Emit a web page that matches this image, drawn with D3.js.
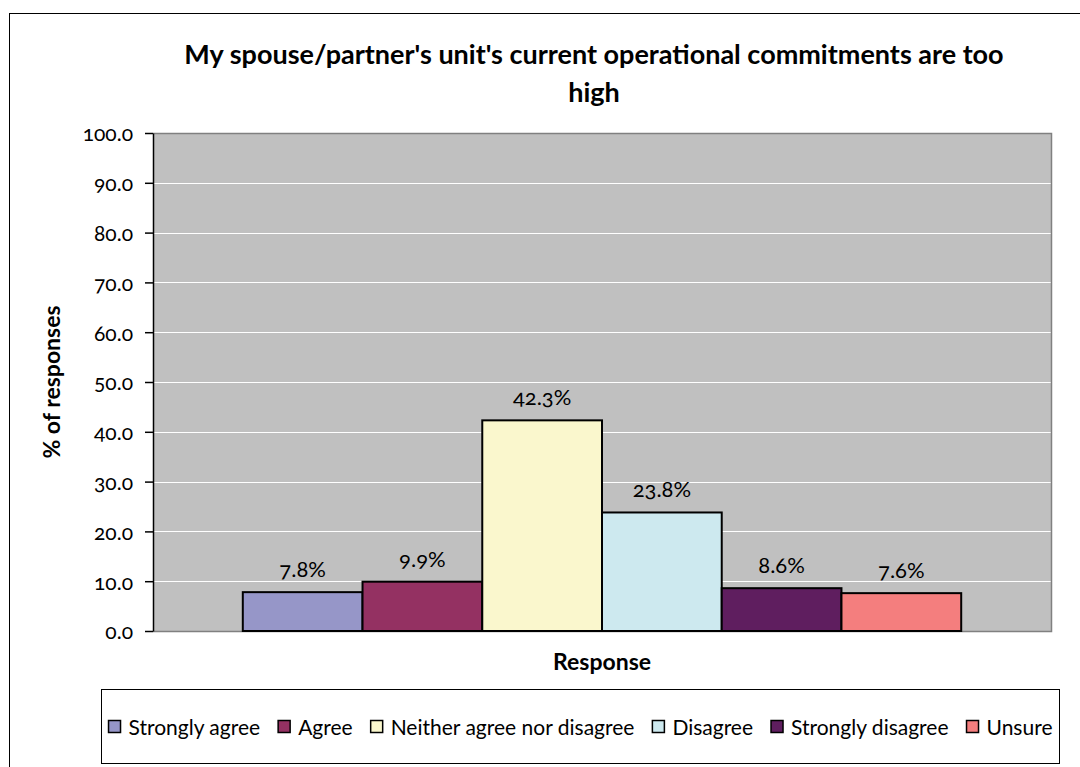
<!DOCTYPE html>
<html>
<head>
<meta charset="utf-8">
<script src="https://cdn.jsdelivr.net/npm/d3@7"></script>
<style>
  html, body { margin: 0; padding: 0; background: #fff; }
  svg { display: block; font-family: Lato, "Open Sans", sans-serif; font-variant-numeric: oldstyle-nums; }
</style>
</head>
<body>
<svg id="chart" width="1080" height="767"></svg>
<script>
// Survey responses: one question, six answer options shown side by side
const titleLines = ["My spouse/partner's unit's current operational commitments are too", "high"];
const categories = ["Strongly agree", "Agree", "Neither agree nor disagree", "Disagree", "Strongly disagree", "Unsure"];
const values = [7.8, 9.9, 42.3, 23.8, 8.6, 7.6];
const colors = ["#9696C8", "#943162", "#FAF7CD", "#CDE9EF", "#5F1E5F", "#F47E7E"];
const yTicks = [0, 10, 20, 30, 40, 50, 60, 70, 80, 90, 100];
const xTitle = "Response";
const yTitle = "% of responses";

const svg = d3.select("#chart");
const plot = { left: 153, right: 1051, top: 133, bottom: 631 };

// Outer chart frame
svg.append("rect")
  .attr("x", 9.5).attr("y", 13.5)
  .attr("width", 1100).attr("height", 800)
  .attr("fill", "#fff").attr("stroke", "#000").attr("stroke-width", 1);

// Title
svg.append("g").selectAll("text")
  .data(titleLines).join("text")
  .attr("x", 594)
  .attr("y", (d, i) => 64 + i * 38)
  .attr("text-anchor", "middle")
  .attr("font-size", 27)
  .attr("font-weight", "bold")
  .attr("fill", "#000")
  .text(d => d);

// Scales: one category band, with the six answers filling it edge to edge
const x0 = d3.scaleBand().domain([xTitle]).range([plot.left, plot.right])
  .paddingInner(0).paddingOuter(0.125);
const x1 = d3.scaleBand().domain(categories).range([0, x0.bandwidth()]).padding(0);
const y = d3.scaleLinear().domain([0, 100]).range([plot.bottom, plot.top]);

// Plot background
svg.append("rect")
  .attr("x", plot.left).attr("y", plot.top)
  .attr("width", plot.right - plot.left).attr("height", plot.bottom - plot.top)
  .attr("fill", "#C0C0C0");

// Horizontal gridlines
svg.append("g").selectAll("line")
  .data(yTicks.filter(t => t > 0 && t < 100)).join("line")
  .attr("x1", plot.left).attr("x2", plot.right)
  .attr("y1", d => Math.round(y(d)) + 0.5).attr("y2", d => Math.round(y(d)) + 0.5)
  .attr("stroke", "#fff").attr("stroke-width", 1);

// Plot frame (top, right, bottom in grey)
svg.append("path")
  .attr("d", `M${plot.left},${plot.top + 0.5}H${plot.right + 0.5}V${plot.bottom + 0.5}H${plot.left}`)
  .attr("fill", "none").attr("stroke", "#808080").attr("stroke-width", 1.5);

// Bars
const barG = svg.append("g").attr("transform", `translate(${x0(xTitle)},0)`);
barG.selectAll("rect")
  .data(values).join("rect")
  .attr("x", (d, i) => x1(categories[i]))
  .attr("y", d => y(d))
  .attr("width", x1.bandwidth())
  .attr("height", d => y(0) - y(d))
  .attr("fill", (d, i) => colors[i])
  .attr("stroke", "#000").attr("stroke-width", 2);

// Value labels
barG.selectAll("text")
  .data(values).join("text")
  .attr("x", (d, i) => x1(categories[i]) + x1.bandwidth() / 2)
  .attr("y", d => y(d) - 15)
  .attr("text-anchor", "middle")
  .attr("font-size", 22)
  .attr("fill", "#000")
  .text(d => d3.format(".1f")(d) + "%");

// Y axis
const yAxis = svg.append("g")
  .attr("transform", `translate(${plot.left},0)`)
  .call(d3.axisLeft(y).tickValues(yTicks).tickFormat(d3.format(".1f"))
    .tickSize(8).tickSizeOuter(0).tickPadding(12));
yAxis.attr("font-size", null).attr("font-family", null);
yAxis.select(".domain").attr("stroke", "#000").attr("stroke-width", 1.5);
yAxis.selectAll(".tick line").attr("stroke", "#000").attr("stroke-width", 1.5);
yAxis.selectAll(".tick text")
  .style("font-size", "21px")
  .attr("fill", "#000").attr("dy", "0.38em");

// Axis titles
svg.append("text")
  .attr("x", (plot.left + plot.right) / 2).attr("y", 670)
  .attr("text-anchor", "middle").attr("font-size", 23).attr("font-weight", "bold")
  .text(xTitle);
svg.append("text")
  .attr("transform", `translate(60,${(plot.top + plot.bottom) / 2}) rotate(-90)`)
  .attr("text-anchor", "middle").attr("font-size", 23).attr("font-weight", "bold")
  .text(yTitle);

// Legend
const legendBox = { x: 101.5, y: 689.5, w: 958, h: 74 };
svg.append("rect")
  .attr("x", legendBox.x).attr("y", legendBox.y)
  .attr("width", legendBox.w).attr("height", legendBox.h)
  .attr("fill", "#fff").attr("stroke", "#000").attr("stroke-width", 1);

const legend = svg.append("g");
const items = legend.selectAll("g").data(categories).join("g");
items.append("rect")
  .attr("width", 12).attr("height", 12).attr("y", -14.5)
  .attr("fill", (d, i) => colors[i])
  .attr("stroke", "#000").attr("stroke-width", 1.5);
items.append("text")
  .attr("x", 20).attr("y", 0)
  .attr("font-size", 21).attr("fill", "#000")
  .text(d => d);

// Lay the legend entries out left to right, centred in the box
let cursor = 0;
const gap = 18;
const offsets = [];
items.each(function () {
  const w = 20 + this.querySelector("text").getComputedTextLength();
  offsets.push(cursor);
  cursor += w + gap;
});
const total = cursor - gap;
const startX = legendBox.x + (legendBox.w - total) / 2;
items.attr("transform", (d, i) => `translate(${startX + offsets[i]},735)`);
</script>
</body>
</html>
